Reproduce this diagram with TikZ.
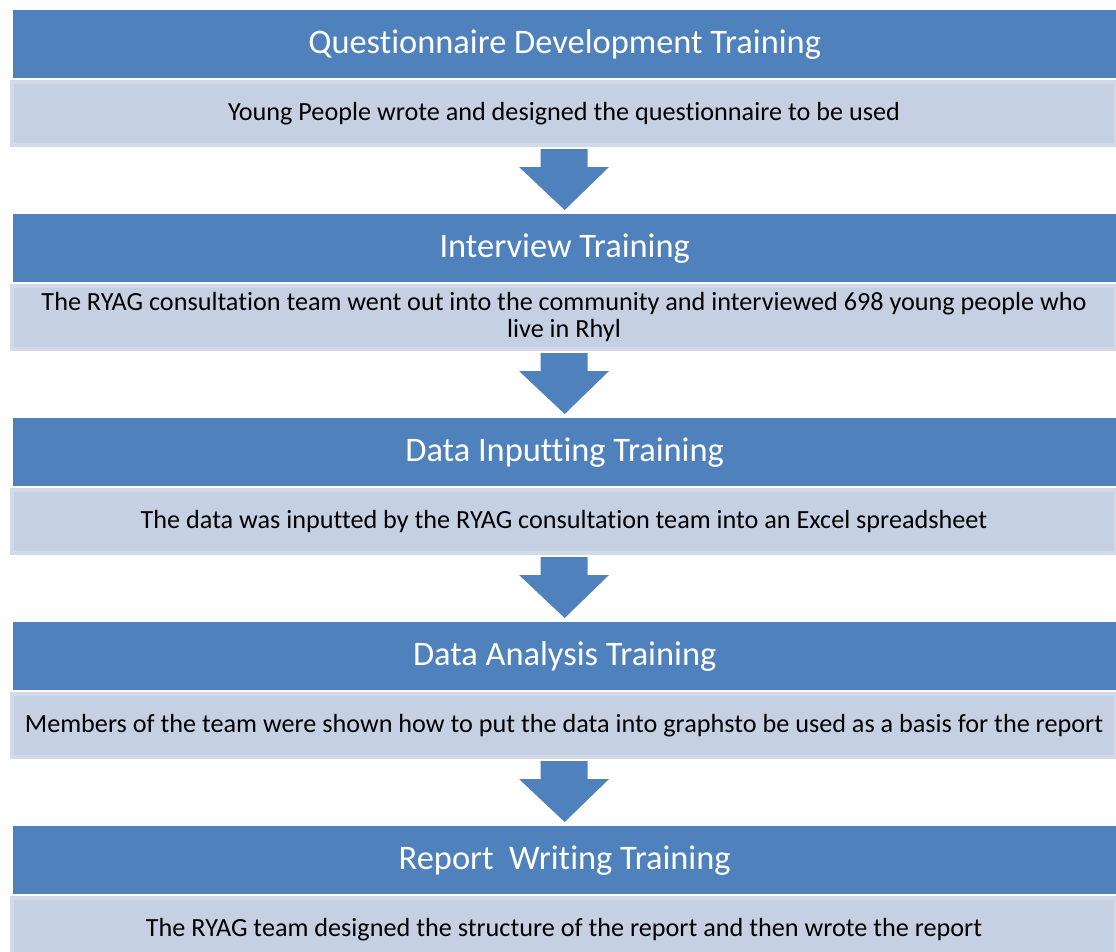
\documentclass[tikz,border=0pt]{standalone}
\usepackage{fontspec}
\setmainfont[Ligatures=NoCommon]{Carlito}
\usetikzlibrary{calc}

\definecolor{headblue}{RGB}{79,129,189}
\definecolor{subfill}{RGB}{197,208,227}
\definecolor{subedge}{RGB}{210,218,233}

\tikzset{
	head/.style={rectangle, fill=headblue, anchor=north west, inner sep=0pt,
		minimum width=1103pt, minimum height=68pt, text=white, font=\fontsize{34.4}{38}\selectfont},
	sub/.style={rectangle, fill=subfill, draw=subedge, line width=4pt, anchor=north west, inner sep=0pt,
		minimum width=1104pt, minimum height=63pt, align=center, font=\fontsize{26.2}{27}\selectfont},
	downarrow/.style={fill=headblue, draw=none}
}

\newcommand{\flowarrow}[2]{%
	\fill[downarrow] ($(#1.south)+(-23.5,2)$) -- ($(#1.south)+(23.5,2)$)
		-- ($(#1.south)+(23.5,20)$) -- ($(#1.south)+(45,20)$)
		-- ($(#2.north)+(0,-4)$)
		-- ($(#1.south)+(-45,20)$) -- ($(#1.south)+(-23.5,20)$) -- cycle;
}

\begin{document}
\begin{tikzpicture}[x=1pt, y=-1pt]
		\useasboundingbox (0,0) rectangle (1116,951);

		\node[head] (h1) at (13, 10) {Questionnaire Development Training};
		\node[sub]  (s1) at (10, 80) {Young People wrote and designed the questionnaire to be used};

		\node[head] (h2) at (13, 214) {Interview Training};
		\node[sub]  (s2) at (10, 284) {The RYAG consultation team went out into the community and interviewed 698 young people who\\ live in Rhyl};

		\node[head] (h3) at (13, 418) {Data Inputting Training};
		\node[sub]  (s3) at (10, 488) {The data was inputted by the RYAG consultation team into an Excel spreadsheet};

		\node[head] (h4) at (13, 622) {Data Analysis Training};
		\node[sub]  (s4) at (10, 692) {Members of the team were shown how to put the data into graphsto be used as a basis for the report};

		\node[head] (h5) at (13, 826) {Report~ Writing Training};
		\node[sub]  (s5) at (10, 896) {The RYAG team designed the structure of the report and then wrote the report};

		\flowarrow{s1}{h2}
		\flowarrow{s2}{h3}
		\flowarrow{s3}{h4}
		\flowarrow{s4}{h5}
\end{tikzpicture}
\end{document}
